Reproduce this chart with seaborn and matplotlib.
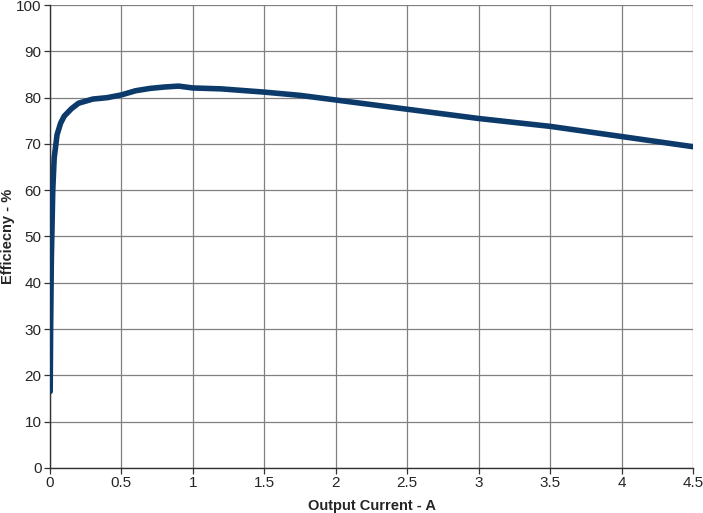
import numpy as np
import pandas as pd
import matplotlib.pyplot as plt
import seaborn as sns

# Efficiency vs output current
current = [0.002, 0.005, 0.01, 0.02, 0.03, 0.05, 0.075, 0.1, 0.15, 0.2, 0.3,
           0.4, 0.5, 0.6, 0.7, 0.8, 0.9, 1.0, 1.2, 1.5, 1.75, 2.0, 2.5, 3.0,
           3.5, 4.0, 4.5]
efficiency = [16.5, 30.0, 45.0, 60.0, 67.0, 72.0, 74.5, 76.0, 77.6, 78.8, 79.7,
              80.0, 80.6, 81.5, 82.0, 82.3, 82.5, 82.1, 81.9, 81.2, 80.5, 79.5,
              77.5, 75.5, 73.8, 71.6, 69.4]
x_ticks = [0, 0.5, 1, 1.5, 2, 2.5, 3, 3.5, 4, 4.5]
x_labels = ["0", "0.5", "1", "1.5", "2", "2.5", "3", "3.5", "4", "4.5"]
y_ticks = list(range(0, 101, 10))

df = pd.DataFrame({"current": current, "efficiency": efficiency})

sns.set_style("white")
plt.rcParams["font.family"] = ["Liberation Sans", "DejaVu Sans"]

fig, ax = plt.subplots(figsize=(7.03, 5.13), dpi=100)
fig.subplots_adjust(left=0.071, right=0.986, top=0.99, bottom=0.088)

sns.lineplot(data=df, x="current", y="efficiency", ax=ax,
             color="#0b3a6b", linewidth=4.0, solid_capstyle="round",
             solid_joinstyle="round", zorder=3)

ax.set_xlim(0, 4.5)
ax.set_ylim(0, 100)
ax.set_xticks(x_ticks)
ax.set_xticklabels(x_labels)
ax.set_yticks(y_ticks)
ax.grid(True, color="#808080", linewidth=0.9)
ax.tick_params(axis="both", which="both", direction="out", length=4,
               width=0.9, color="#333333", labelsize=11, pad=2,
               bottom=True, left=True)

for side in ["top", "right"]:
    ax.spines[side].set_visible(False)
for side in ["left", "bottom"]:
    ax.spines[side].set_color("#333333")
    ax.spines[side].set_linewidth(1.0)

ax.set_xlabel("Output Current - A", fontsize=10.5, fontweight="bold", labelpad=6)
ax.set_ylabel("Efficiecny - %", fontsize=10.5, fontweight="bold")
ax.yaxis.set_label_coords(-0.055, 0.5)

fig.savefig("out.png", dpi=100)
